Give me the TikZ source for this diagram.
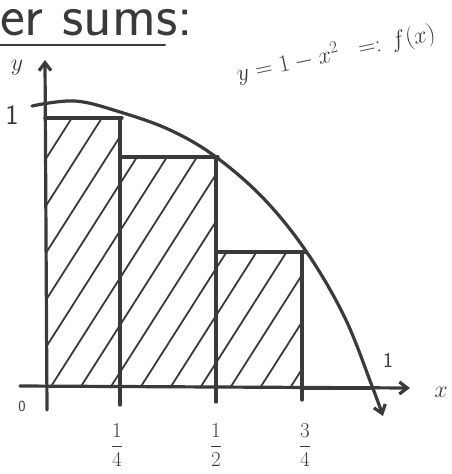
\RequirePackage{fix-cm}
\documentclass[tikz,border=0pt]{standalone}
\usepackage{amsmath}
\usepackage{tikz}
\usetikzlibrary{arrows.meta}
\definecolor{ink}{HTML}{3A3A3A}

\begin{document}
\begin{tikzpicture}[
  x=0.5mm,y=-0.5mm,
  pen/.style={draw=ink,line width=1.6mm,line cap=round,line join=round},
  thin pen/.style={draw=ink,line width=1.0mm,line cap=round},
  axis/.style={pen,-{Straight Barb[length=4mm,width=6mm]}},
  hatch/.style={draw=ink,line width=0.9mm,line cap=round},
  lbl/.style={text=ink,inner sep=0pt,font=\sffamily\fontsize{34}{40}\selectfont},
  frac/.style={text=ink,inner sep=0pt,font=\fontsize{30}{36}\selectfont}
]
\useasboundingbox (0,0) rectangle (451,474);

%------ title -----------------------------------------------------------------
\node[lbl,anchor=base west,font=\sffamily\fontsize{84}{88}\selectfont] (title) at (0,36) {er sums:};
\draw[thin pen] (0,45) -- (165,45);

%------ hatching inside the rectangles ---------------------------------------
\begin{scope}
  \clip (45,118) rectangle (120,388) (120,157) rectangle (216,388) (216,252) rectangle (302,388);
  \foreach \s in {-160,-130,...,320}
    \draw[hatch] (\s,388) -- (\s+210,58);
\end{scope}

%------ rectangles ------------------------------------------------------------
\draw[pen] (45,118) -- (122,118);
\draw[pen] (120,405) -- (120,118) (120,157) -- (218,157);
\draw[pen] (216,402) -- (216,157) (216,252) -- (306,252);
\draw[pen] (302,400) -- (302,252);

%------ axes ------------------------------------------------------------------
\draw[axis] (20,386) -- (410,388);
\draw[axis] (47,410) -- (45,60);
\draw[draw=ink,line width=2.4mm,line cap=round] (302,388) -- (372,388);

%------ the curve -------------------------------------------------------------
\draw[pen,-{Straight Barb[length=4mm,width=6mm]}] plot[smooth,tension=0.6] coordinates
  {(32,106) (75,101) (120,112) (170,130) (216,157) (265,200) (308,254) (345,318) (372,386) (383,416)};

%------ labels ----------------------------------------------------------------
\node[lbl] (ylab) at (17,68) {$y$};
\node[lbl] (xlab) at (441,392) {$x$};
\node[lbl,font=\sffamily\fontsize{40}{44}\selectfont] (one) at (12,115) {1};
\node[lbl,font=\sffamily\fontsize{30}{34}\selectfont] (xone) at (388,360) {1};
\node[lbl,font=\sffamily\fontsize{22}{26}\selectfont] (zero) at (22,406) {0};
\node[frac] (q1) at (117,445) {$\dfrac{1}{4}$};
\node[frac] (q2) at (216,445) {$\dfrac{1}{2}$};
\node[frac] (q3) at (305,445) {$\dfrac{3}{4}$};
\node[lbl,rotate=12,font=\fontsize{34}{40}\selectfont] (fn) at (336,54) {$y=1-x^2\;\;=:\,f(x)$};
\end{tikzpicture}
\end{document}
